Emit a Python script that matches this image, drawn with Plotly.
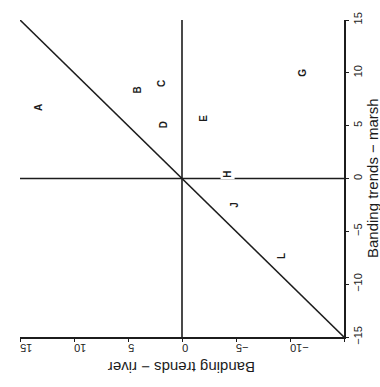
import plotly.graph_objects as go

# Banding trends per site: river trend vs marsh trend
sites = ["A", "B", "C", "D", "E", "G", "H", "J", "L"]
river = [13.3, 4.1, 1.9, 1.7, -2.0, -11.2, -4.2, -4.9, -9.2]
marsh = [6.7, 8.4, 9.0, 5.1, 5.7, 10.0, 0.4, -2.5, -7.3]

# Axis ticks
river_ticks = [15, 10, 5, 0, -5, -10, -15]
river_ticktext = ["15", "10", "5", "0", "−5", "−10", ""]
marsh_ticks = [15, 10, 5, 0, -5, -10, -15]
marsh_ticktext = ["15", "10", "5", "0", "−5", "−10", "−15"]

ink = "#1c1c1c"
font = "Liberation Sans, Arial, sans-serif"

fig = go.Figure()

# 1:1 reference line
fig.add_trace(go.Scatter(x=[15, -15], y=[15, -15], mode="lines",
                         line=dict(color=ink, width=1.6), hoverinfo="skip"))
# zero lines of both trends
fig.add_trace(go.Scatter(x=[0, 0], y=[-15, 15], mode="lines",
                         line=dict(color=ink, width=1.6), hoverinfo="skip"))
fig.add_trace(go.Scatter(x=[15, -15], y=[0, 0], mode="lines",
                         line=dict(color=ink, width=1.6), hoverinfo="skip"))

# site letters
for s, rx, my in zip(sites, river, marsh):
    fig.add_annotation(x=rx, y=my, text=s, showarrow=False, textangle=-90,
                       xanchor="center", yanchor="middle",
                       font=dict(family=font, size=10, color=ink, weight="bold"),
                       bgcolor="white" if s == "H" else None)

# axis titles
fig.add_annotation(x=0.5, y=-0.096, xref="paper", yref="paper",
                   xanchor="center", yanchor="middle",
                   text="Banding trends − river", showarrow=False,
                   textangle=180, font=dict(family=font, size=15, color=ink))
fig.add_annotation(x=1.088, y=0.5, xref="paper", yref="paper",
                   xanchor="center", yanchor="middle",
                   text="Banding trends − marsh", showarrow=False,
                   textangle=-90, font=dict(family=font, size=15, color=ink))

axis_common = dict(showgrid=False, zeroline=False, showline=True,
                   linecolor=ink, linewidth=1.6, ticks="outside",
                   ticklen=3, tickwidth=1.2, tickcolor=ink,
                   tickfont=dict(family=font, size=11, color=ink))

fig.update_xaxes(range=[15, -15], tickvals=river_ticks, ticktext=river_ticktext,
                 tickangle=180, **axis_common)
fig.update_yaxes(range=[-15, 15], side="right", tickvals=marsh_ticks,
                 ticktext=marsh_ticktext, tickangle=-90, **axis_common)

fig.update_layout(width=380, height=387, showlegend=False,
                  margin=dict(l=20, r=36, t=15, b=50),
                  paper_bgcolor="white", plot_bgcolor="white")

fig.write_html("out.html")
